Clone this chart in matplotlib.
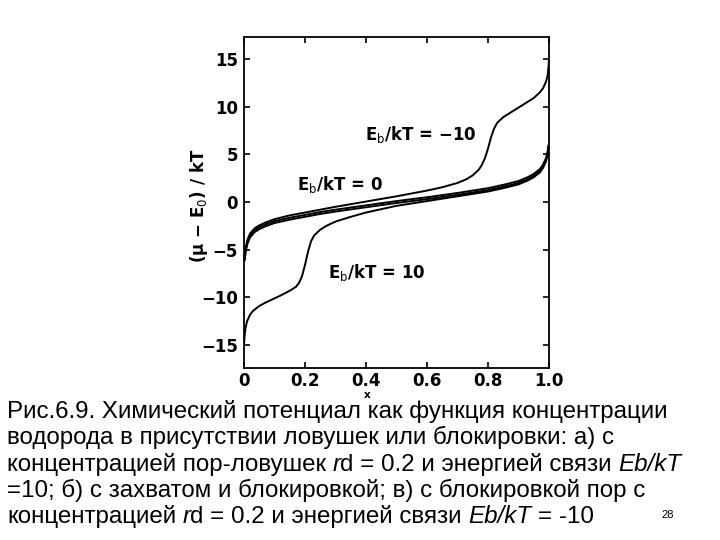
import matplotlib
matplotlib.use("Agg")
import matplotlib.pyplot as plt
import numpy as np

# ---------------- data ----------------
x_band = [0.002, 0.006, 0.012, 0.02, 0.035, 0.05, 0.07, 0.1, 0.15, 0.2, 0.25, 0.3,
          0.4, 0.5, 0.6, 0.7, 0.8, 0.85, 0.9, 0.93, 0.95, 0.97, 0.98, 0.99, 0.995, 0.998]
y_eb0 = [-6.0, -4.9, -4.1, -3.5, -2.95, -2.65, -2.35, -2.0, -1.65, -1.35, -1.05, -0.8,
         -0.35, 0.1, 0.5, 0.95, 1.45, 1.8, 2.2, 2.6, 2.95, 3.45, 3.9, 4.6, 5.2, 5.9]
y_trap_block = [-6.1, -5.1, -4.3, -3.7, -3.15, -2.85, -2.55, -2.2, -1.85, -1.55, -1.25, -1.0,
                -0.55, -0.1, 0.3, 0.75, 1.25, 1.6, 2.0, 2.4, 2.75, 3.25, 3.7, 4.4, 5.0, 5.7]

x_m10 = [0.002, 0.006, 0.012, 0.02, 0.035, 0.05, 0.07, 0.1, 0.15, 0.2, 0.25, 0.3, 0.4,
         0.5, 0.6, 0.65, 0.7, 0.73, 0.75, 0.77, 0.78, 0.79, 0.80, 0.81, 0.82, 0.83, 0.85,
         0.88, 0.9, 0.93, 0.95, 0.97, 0.98, 0.99, 0.995, 0.998, 1.0]
y_m10 = [-5.8, -4.7, -3.9, -3.3, -2.75, -2.45, -2.15, -1.8, -1.4, -1.1, -0.8, -0.5, 0.05,
         0.6, 1.2, 1.55, 2.0, 2.4, 2.8, 3.4, 3.9, 4.6, 5.6, 6.8, 7.7, 8.3, 8.9,
         9.5, 9.9, 10.5, 10.9, 11.5, 11.9, 12.6, 13.2, 14.0, 15.0]

x_p10 = [0.0, 0.002, 0.005, 0.01, 0.02, 0.03, 0.05, 0.07, 0.1, 0.12, 0.15, 0.17, 0.18,
         0.19, 0.20, 0.21, 0.22, 0.23, 0.25, 0.27, 0.3, 0.35, 0.4, 0.5, 0.6, 0.7, 0.8,
         0.85, 0.9, 0.93, 0.95, 0.97, 0.98, 0.99, 0.995, 0.998]
y_p10 = [-15.0, -14.0, -13.2, -12.5, -11.8, -11.4, -10.9, -10.55, -10.1, -9.8, -9.3, -8.9,
         -8.5, -7.8, -6.6, -5.2, -4.1, -3.5, -2.9, -2.5, -2.05, -1.55, -1.1, -0.4, 0.1,
         0.6, 1.1, 1.45, 1.85, 2.25, 2.6, 3.1, 3.55, 4.25, 4.9, 5.6]

x_ticks = [0, 0.2, 0.4, 0.6, 0.8, 1.0]
x_ticklabels = ["0", "0.2", "0.4", "0.6", "0.8", "1.0"]
y_ticks = [-15, -10, -5, 0, 5, 10, 15]
y_ticklabels = ["\u221215", "\u221210", "\u22125", "0", "5", "10", "15"]

curve_labels = ["E$_\\mathrm{b}$/kT = \u221210", "E$_\\mathrm{b}$/kT = 0", "E$_\\mathrm{b}$/kT = 10"]
label_pos = [(0.397, 6.5), (0.173, 1.26), (0.275, -7.97)]

caption = [
    [("Рис.6.9. Химический потенциал как функция концентрации", False)],
    [("водорода в присутствии ловушек или блокировки: а) с", False)],
    [("концентрацией пор-ловушек", False), (" ", None), ("r", True), ("d = 0.2 и энергией связи", False),
     (" ", None), ("Eb/kT", True)],
    [("=10; б) с захватом и блокировкой; в) с блокировкой пор с", False)],
    [("концентрацией", False), (" ", None), ("r", True), ("d = 0.2 и энергией связи", False),
     (" ", None), ("Eb/kT", True), (" ", None), ("= -10", False)],
]
page_number = "28"

# ---------------- figure ----------------
W, H = 720, 540
fig = plt.figure(figsize=(W / 100, H / 100), dpi=100)
fig.patch.set_facecolor("white")

ax = fig.add_axes([244 / W, 1 - 368 / H, 305 / W, 331 / H])
lw = 1.4
ax.plot(x_band, y_eb0, color="black", lw=lw)
ax.plot(x_band, y_trap_block, color="black", lw=lw)
ax.plot(x_m10, y_m10, color="black", lw=lw)
ax.plot(x_p10, y_p10, color="black", lw=lw)

ax.set_xlim(0, 1)
ax.set_ylim(-17.4, 17.3)
ax.set_xticks(x_ticks)
ax.set_xticklabels(x_ticklabels)
ax.set_yticks(y_ticks)
ax.set_yticklabels(y_ticklabels)
ax.tick_params(direction="in", length=4.5, width=1.2, top=True, right=True,
               labelsize=12, pad=4.5)
ax.tick_params(axis="x", pad=3.0)
for lab in ax.get_xticklabels() + ax.get_yticklabels():
    lab.set_fontweight("bold")
    lab.set_family("DejaVu Sans")
for s in ax.spines.values():
    s.set_linewidth(1.3)

ax.set_ylabel("(\u03bc \u2212 E$_0$) / kT", fontsize=12, fontweight="bold", family="DejaVu Sans")
ax.yaxis.set_label_coords(-0.111, 0.49)

for txt, (lx, ly) in zip(curve_labels, label_pos):
    ax.text(lx, ly, txt, fontsize=12, fontweight="bold", family="DejaVu Sans",
            ha="left", va="baseline")

fig.text(367 / W, 1 - 398 / H, "x", fontsize=7.5, fontweight="bold", family="DejaVu Sans",
         ha="center", va="baseline")

# ---------------- caption ----------------
renderer = fig.canvas.get_renderer()
cap_family = "Liberation Sans"


def text_width(s, size, italic=False):
    t = fig.text(0, 0, s, fontsize=size, family=cap_family, style="italic" if italic else "normal")
    w = t.get_window_extent(renderer).width
    t.remove()
    return w


base_size = 16.0
w1 = text_width(caption[0][0][0], base_size)
cap_size = base_size * 661.0 / w1
space_w = text_width("a a", cap_size) - text_width("aa", cap_size)

baselines = [417.7, 444.3, 470.7, 497.0, 523.3]
for segs, yb in zip(caption, baselines):
    x = 7.0
    for s, it in segs:
        if it is None:
            x += space_w
            continue
        t = fig.text(x / W, 1 - yb / H, s, fontsize=cap_size, family=cap_family,
                     style="italic" if it else "normal", ha="left", va="baseline")
        x = t.get_window_extent(renderer).x1
        if it and s == "r":
            x -= 0.5

fig.text(668 / W, 1 - 518 / H, page_number, fontsize=8, family=cap_family,
         ha="center", va="baseline")

fig.savefig("out.png", dpi=100, facecolor="white")
